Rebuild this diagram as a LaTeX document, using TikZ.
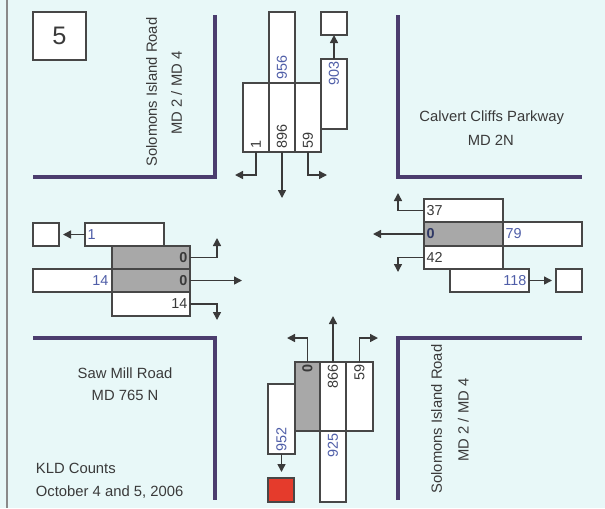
\documentclass[tikz,border=0pt]{standalone}
\usepackage{fontspec}
\setmainfont{Liberation Sans}
\usetikzlibrary{arrows.meta}
\definecolor{bgc}{HTML}{E8F8F8}
\definecolor{roadc}{HTML}{4B3D6E}
\definecolor{boxc}{HTML}{474747}
\definecolor{shadec}{HTML}{A8A8A8}
\definecolor{txtc}{HTML}{3A3A3A}
\definecolor{bluec}{HTML}{4F5EA8}
\definecolor{redc}{HTML}{E53B2C}
\definecolor{edgec}{HTML}{8A8A8A}
\newcommand\bx[6]{\node[#6, minimum width={(#4-#2)*0.75pt}, minimum height={(#5-#3)*0.75pt}] (#1) at ({(#2+#4)/2},{(#3+#5)/2}) {};}
\tikzset{
  box/.style={draw=boxc, line width=0.9pt, fill=white, inner sep=0pt, outer sep=0pt},
  shadebox/.style={box, fill=shadec},
  redbox/.style={box, fill=redc},
  road/.style={draw=roadc, line width=2.4pt},
  flow/.style={draw=txtc, line width=1.1pt, -{Triangle[length=6pt,width=6pt]}},
  num/.style={text=txtc, font=\fontsize{10.8}{12}\selectfont, inner sep=1pt},
  bnum/.style={num, text=bluec},
  lbl/.style={text=txtc, font=\fontsize{11.1}{13}\selectfont, inner sep=0pt},
}
\begin{document}
\begin{tikzpicture}[x=0.75pt,y=-0.75pt]
\fill[bgc] (0,0) rectangle (605,508);
\useasboundingbox (0,0) rectangle (605,508);
\draw[edgec, line width=0.8pt] (7,0) -- (7,508);
% roads
\draw[road] (33,177) -- (215,177) -- (215,15);
\draw[road] (398,15) -- (398,177) -- (582,177);
\draw[road] (33,338) -- (215,338) -- (215,500);
\draw[road] (398,500) -- (398,338) -- (582,338);
% number box
\node[draw=boxc, line width=0.9pt, fill=white, minimum width={53*0.75pt}, minimum height={48*0.75pt}, font=\fontsize{19}{22}\selectfont, text=txtc, inner sep=0pt] (nr) at (59.5,36) {5};
% road labels
\node[lbl, rotate=90] (sir1) at (151.7,92) {Solomons Island Road};
\node[lbl, rotate=90] (md1) at (176.7,93) {MD 2 / MD 4};
\node[lbl, rotate=90] (sir2) at (436.7,419) {Solomons Island Road};
\node[lbl, rotate=90] (md2) at (463.3,420) {MD 2 / MD 4};
\node[lbl] (ccp) at (491.7,117.7) {Calvert Cliffs Parkway};
\node[lbl] (md2n) at (490.8,140) {MD 2N};
\node[lbl] (smr) at (125,373.3) {Saw Mill Road};
\node[lbl] (md765) at (125,395.7) {MD 765 N};
\node[lbl, anchor=west] (kld) at (35.7,468.3) {KLD Counts};
\node[lbl, anchor=west] (oct) at (35.7,491.7) {October 4 and 5, 2006};
% ---- top approach
\bx{t956}{269}{12}{295}{83}{box}
\bx{tL}{243}{83}{269}{152}{box}
\bx{tT}{269}{83}{295}{152}{box}
\bx{tR}{295}{83}{321}{152}{box}
\bx{t903}{321}{59}{347}{129}{box}
\bx{tsq}{321}{12}{347}{35}{box}
\coordinate (tLe) at (235,175);
\coordinate (tTe) at (282,198);
\coordinate (tRe) at (327,175);
\draw[flow] (t903.north) -- (tsq.south);
\draw[flow] (tL.south) |- (tLe);
\draw[flow] (tT.south) -- (tT.south |- tTe);
\draw[flow] (tR.south) |- (tRe);
\node[num, rotate=90, anchor=west] (ntL) at (256,150) {1};
\node[num, rotate=90, anchor=west] (ntT) at (282,150) {896};
\node[num, rotate=90, anchor=west] (ntR) at (308,150) {59};
\node[bnum, rotate=90, anchor=west] (nt956) at (282,81) {956};
\node[bnum, rotate=90, anchor=east] (nt903) at (334,60) {903};
% ---- left approach
\bx{lsq}{33}{223}{59}{246}{box}
\bx{l1}{85}{223}{164}{246}{box}
\bx{lU}{112}{246}{190}{269}{shadebox}
\bx{lW}{33}{269}{112}{292}{box}
\bx{lM}{112}{269}{190}{292}{shadebox}
\bx{lD}{112}{292}{190}{316}{box}
\coordinate (lUe) at (217,238);
\coordinate (lMe) at (242,280.5);
\coordinate (lDe) at (217,320);
\draw[flow, shorten >=3pt] (l1.west) -- (lsq.east);
\draw[flow] (lU.east) -| (lUe);
\draw[flow] (lM.east) -- (lM.east -| lMe);
\draw[flow] (lD.east) -| (lDe);
\node[bnum, anchor=west] (nl1) at (86,234.5) {1};
\node[num, anchor=east] (nlU) at (189,257.5) {\textbf{0}};
\node[bnum, anchor=east] (nlW) at (110,280.5) {14};
\node[num, anchor=east] (nlM) at (189,280.5) {\textbf{0}};
\node[num, anchor=east] (nlD) at (189,304) {14};
% ---- right approach
\bx{r37}{424}{199}{503}{222}{box}
\bx{r0}{424}{222}{503}{246}{shadebox}
\bx{r79}{503}{222}{582}{246}{box}
\bx{r42}{424}{246}{503}{269}{box}
\bx{r118}{450}{269}{529}{292}{box}
\bx{rsq}{556}{269}{582}{292}{box}
\coordinate (r37e) at (398,193);
\coordinate (r0e) at (373,234);
\coordinate (r42e) at (398,272);
\draw[flow] (r37.west) -| (r37e);
\draw[flow] (r0.west) -- (r0.west -| r0e);
\draw[flow] (r42.west) -| (r42e);
\draw[flow, shorten >=3pt] (r118.east) -- (rsq.west);
\node[num, anchor=west] (nr37) at (425,210.5) {37};
\node[num, text=bluec!60!black, anchor=west] (nr0) at (425,234) {\textbf{0}};
\node[bnum, anchor=west] (nr79) at (504,234) {79};
\node[num, anchor=west] (nr42) at (425,257.5) {42};
\node[bnum, anchor=east] (nr118) at (528,280.5) {118};
% ---- bottom approach
\bx{b0}{295}{362}{320}{431}{shadebox}
\bx{b866}{320}{362}{346}{431}{box}
\bx{b59}{346}{362}{373}{431}{box}
\bx{b925}{320}{431}{346}{502}{box}
\bx{b952}{268}{384}{295}{454}{box}
\bx{bsq}{268}{478}{294}{502}{redbox}
\coordinate (b0e) at (287,338);
\coordinate (b866e) at (333,316);
\coordinate (b59e) at (378,338);
\coordinate (b952e) at (281.5,472);
\draw[flow] (b0.north) |- (b0e);
\draw[flow] (b866.north) -- (b866.north |- b866e);
\draw[flow] (b59.north) |- (b59e);
\draw[flow] (b952.south) -- (b952.south |- b952e);
\node[num, rotate=90, anchor=east] (nb0) at (307.5,363) {\textbf{0}};
\node[num, rotate=90, anchor=east] (nb866) at (333,363) {866};
\node[num, rotate=90, anchor=east] (nb59) at (359.5,363) {59};
\node[bnum, rotate=90, anchor=east] (nb925) at (333,432) {925};
\node[bnum, rotate=90, anchor=west] (nb952) at (281.5,453) {952};
\end{tikzpicture}
\end{document}
